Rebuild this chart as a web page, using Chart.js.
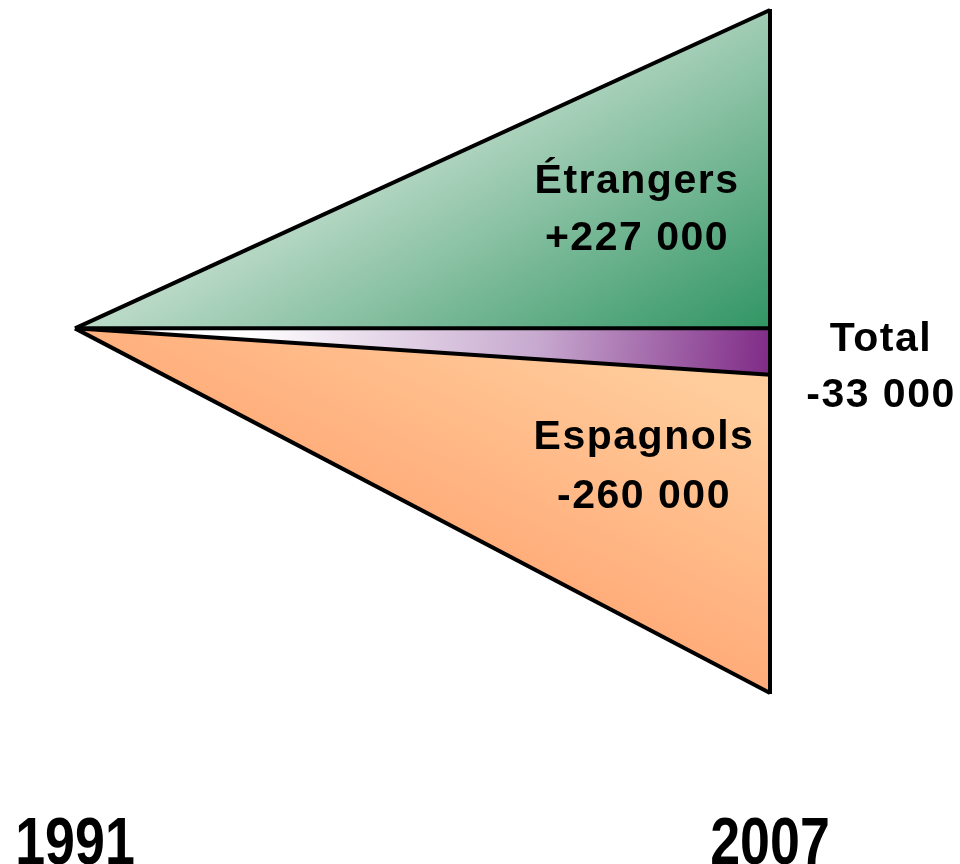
<!DOCTYPE html>
<html>
<head>
<meta charset="utf-8">
<script src="https://cdn.jsdelivr.net/npm/chart.js@4.4.1/dist/chart.umd.min.js"></script>
<style>
  html, body { margin: 0; padding: 0; background: #ffffff; }
  #wrap { width: 960px; height: 864px; position: relative; }
</style>
</head>
<body>
<div id="wrap"><canvas id="FanChart"></canvas></div>
<script>
// years on the x axis
var years = [1991, 2007];
// change 1991 -> 2007, in thousands
var strangers = [0, 227];
var spaniards = [0, -260];
var total = [0, -33];
// text shown in the chart
var seriesNames = ["Étrangers", "Total", "Espagnols"];
var seriesTexts = ["+227 000", "-33 000", "-260 000"];

function pts(vals) {
    return years.map(function (y, i) { return { x: y, y: vals[i] }; });
}

function greenFill(ctx) {
    var c = ctx.chart.ctx;
    var g = c.createLinearGradient(165, 287, 335, 583);
    g.addColorStop(0, "#b9d9c6");
    g.addColorStop(1, "#2f9462");
    return g;
}
function purpleFill(ctx) {
    var c = ctx.chart.ctx;
    var g = c.createLinearGradient(250, 320, 770, 380);
    g.addColorStop(0, "#ffffff");
    g.addColorStop(0.55, "#c7a9cf");
    g.addColorStop(1, "#7f2a86");
    return g;
}
function orangeFill(ctx) {
    var c = ctx.chart.ctx;
    var g = c.createLinearGradient(600, 330, 430, 690);
    g.addColorStop(0, "#ffcd9c");
    g.addColorStop(1, "#ff9a66");
    return g;
}

// right edge + year labels + series labels
var decoPlugin = {
    id: "deco",
    afterDatasetsDraw: function (chart) {
        var c = chart.ctx;
        var xs = chart.scales.x, ys = chart.scales.y;
        var xr = xs.getPixelForValue(years[1]);
        c.save();
        c.strokeStyle = "#000";
        c.lineWidth = 4;
        c.beginPath();
        c.moveTo(xr, ys.getPixelForValue(strangers[1]) - 1);
        c.lineTo(xr, ys.getPixelForValue(spaniards[1]) + 1);
        c.stroke();

        c.fillStyle = "#000";
        c.textAlign = "center";
        c.textBaseline = "alphabetic";
        c.font = "bold 41px 'Liberation Sans', Arial, sans-serif";
        c.letterSpacing = "1.5px";
        var lab = [
            [xr - 133, 193, 250],
            [xr + 111, 351, 407],
            [xr - 126, 449, 508]
        ];
        for (var i = 0; i < seriesNames.length; i++) {
            c.fillText(seriesNames[i], lab[i][0], lab[i][1]);
            c.fillText(seriesTexts[i], lab[i][0], lab[i][2]);
        }

        c.letterSpacing = "0px";
        c.font = "bold 56px 'Liberation Sans', Arial, sans-serif";
        years.forEach(function (yr) {
            var px = xs.getPixelForValue(yr);
            c.save();
            c.translate(px, 864);
            c.scale(0.96, 1.2);
            c.fillText(String(yr), 0, 0);
            c.restore();
        });
        c.restore();
    }
};

var ctx = document.getElementById("FanChart").getContext("2d");
var myChart = new Chart(ctx, {
    type: "line",
    data: {
        datasets: [{
            label: "zero",
            data: pts([0, 0]),
            borderColor: "#000",
            borderWidth: 4,
            fill: false,
            pointRadius: 0,
            clip: false
        }, {
            label: "Total",
            data: pts(total),
            borderColor: "#000",
            borderWidth: 4,
            backgroundColor: purpleFill,
            fill: "origin",
            pointRadius: 0,
            clip: false
        }, {
            label: "Espagnols",
            data: pts(spaniards),
            borderColor: "#000",
            borderWidth: 4,
            backgroundColor: orangeFill,
            fill: "origin",
            pointRadius: 0,
            clip: false
        }, {
            label: "Étrangers",
            data: pts(strangers),
            borderColor: "#000",
            borderWidth: 4,
            backgroundColor: greenFill,
            fill: "origin",
            pointRadius: 0,
            clip: false
        }]
    },
    options: {
        responsive: true,
        maintainAspectRatio: false,
        animation: false,
        layout: { padding: { left: 75, right: 190, top: 10, bottom: 171 } },
        plugins: { legend: { display: false }, tooltip: { enabled: false } },
        scales: {
            x: { type: "linear", min: 1991, max: 2007, display: false },
            y: { min: -260, max: 227, display: false }
        }
    },
    plugins: [decoPlugin]
});
</script>
</body>
</html>
